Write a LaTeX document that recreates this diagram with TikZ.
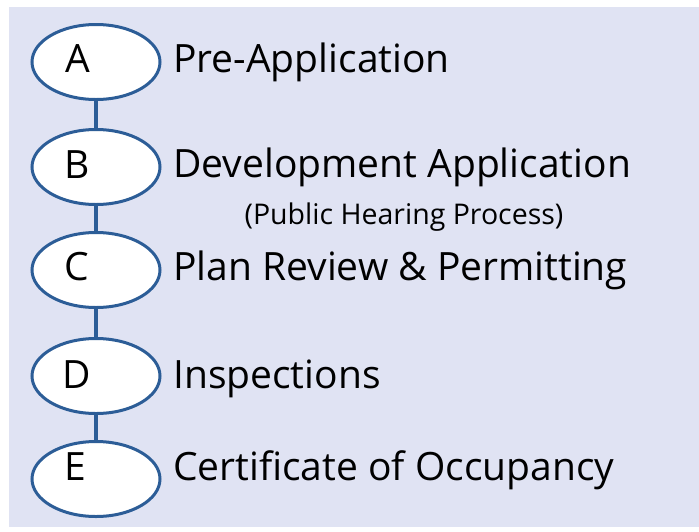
\documentclass[tikz,border=0pt]{standalone}
\usepackage{fontspec}
\setmainfont{Open Sans}
\usetikzlibrary{shapes.geometric}
\definecolor{bgc}{HTML}{E0E3F3}
\definecolor{edgec}{HTML}{2C5D97}
\tikzset{
  stepell/.style={ellipse, draw=edgec, line width=3pt, fill=white, minimum width=128pt, minimum height=75pt, inner sep=0pt},
  letter/.style={font=\fontsize{39}{39}\selectfont, anchor=base, inner sep=0pt},
  lbl/.style={font=\fontsize{39}{39}\selectfont, anchor=base west, inner sep=0pt},
  sublbl/.style={font=\fontsize{28.5}{28.5}\selectfont, anchor=base, inner sep=0pt},
  link/.style={draw=edgec, line width=4pt}
}
\begin{document}
\begin{tikzpicture}[x=1pt,y=-1pt]
\useasboundingbox (0,0) rectangle (699,531);
\fill[white] (0,0) rectangle (699,531);
\fill[bgc] (9,7) rectangle (699,527);
\node[stepell] (ea) at (96,62) {};
\node[stepell] (eb) at (96,167) {};
\node[stepell] (ec) at (96,270) {};
\node[stepell] (ed) at (96,376) {};
\node[stepell] (ee) at (96,479) {};
\path[link] (ea.south) -- (eb.north);
\path[link] (eb.south) -- (ec.north);
\path[link] (ec.south) -- (ed.north);
\path[link] (ed.south) -- (ee.north);
\node[letter] (la) at (78,72) {A};
\node[letter] (lb) at (77,178) {B};
\node[letter] (lc) at (77,280) {C};
\node[letter] (ld) at (77,388) {D};
\node[letter] (le) at (75,480) {E};
\node[lbl] (ta) at (173,72) {Pre-Application};
\node[lbl] (tb) at (173,177) {Development Application};
\node[sublbl] (tbs) at (404,224) {(Public Hearing Process)};
\node[lbl] (tc) at (173,280) {Plan Review \& Permitting};
\node[lbl] (td) at (173,388) {Inspections};
\node[lbl] (te) at (173,480) {Certificate of Occupancy};
\end{tikzpicture}
\end{document}
